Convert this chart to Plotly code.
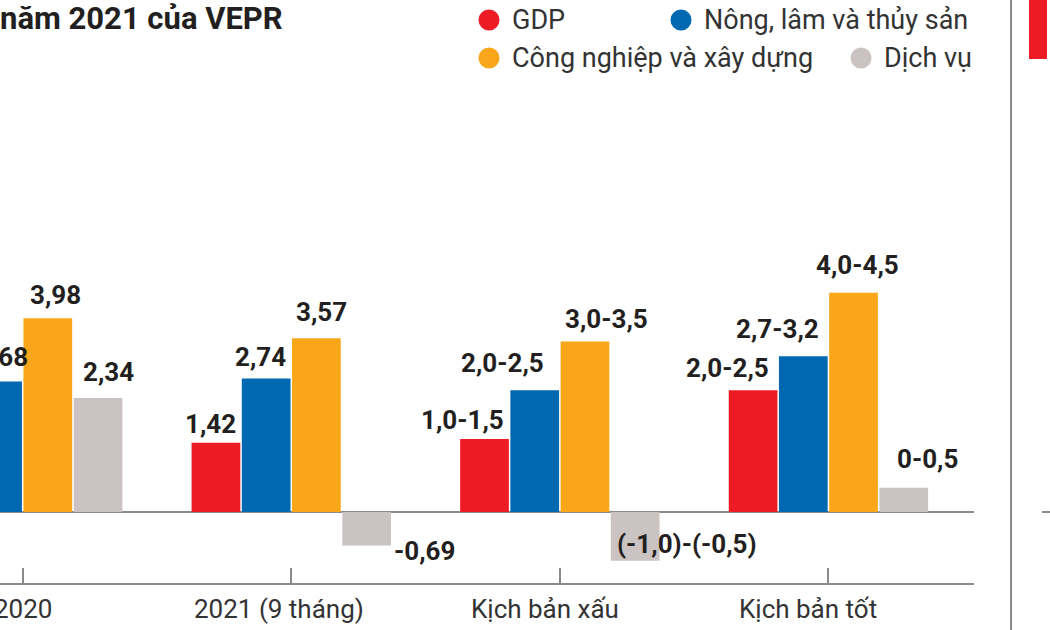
import plotly.graph_objects as go

# ---------------- data ----------------
categories = ["2020", "2021 (9 tháng)", "Kịch bản xấu", "Kịch bản tốt"]
series_names = ["GDP", "Nông, lâm và thủy sản", "Công nghiệp và xây dựng", "Dịch vụ"]
gdp = [2.91, 1.42, 1.5, 2.5]
agri = [2.68, 2.74, 2.5, 3.2]
industry = [3.98, 3.57, 3.5, 4.5]
services = [2.34, -0.69, -1.0, 0.5]
gdp_labels = ["2,91", "1,42", "1,0-1,5", "2,0-2,5"]
agri_labels = ["2,68", "2,74", "2,0-2,5", "2,7-3,2"]
industry_labels = ["3,98", "3,57", "3,0-3,5", "4,0-4,5"]
services_labels = ["2,34", "-0,69", "(-1,0)-(-0,5)", "0-0,5"]
title_text = "năm 2021 của VEPR"

values = [gdp, agri, industry, services]
labels = [gdp_labels, agri_labels, industry_labels, services_labels]

# ---------------- style ----------------
colors = ["#ed1c24", "#0067b1", "#f9a61b", "#cbc3c1"]
W, H = 1050, 630
M_L, M_R, M_T, M_B = 0, 76, 0, 47
PW, PH = W - M_L - M_R, H - M_T - M_B
X_RANGE = [-0.0845, 3.542]
Y_RANGE = [-1.458, 10.513]
BARGAP = 0.252
SLOT = (1 - BARGAP) / 4
AXIS_COLOR = "#8a8a8a"
LABEL_COLOR = "#231f20"
TEXT_COLOR = "#333333"
FONT = "Roboto, Arial, sans-serif"

# label offsets (px): dx horizontal, gap above bar top
label_dx = [[0, -5, -22, -26], [5, -6, -32, -26], [8, 5, 22, 4], [10, 0, 0, 24]]
label_gap = [[15, 11, 11, 14], [16, 14, 19, 19], [15, 18, 15, 20], [18, 0, 0, 21]]
cat_label_dx = [0, -12, -15, -20]


def xp(v):
    return (v - X_RANGE[0]) / (X_RANGE[1] - X_RANGE[0])


def px_x(p):
    return p / PW


def px_y(p):
    return (PH - p) / PH


bold_font = dict(family=FONT, size=26, color=LABEL_COLOR, weight="bold")

fig = go.Figure()
for j, (name, vals) in enumerate(zip(series_names, values)):
    fig.add_trace(go.Bar(
        x=categories, y=vals, name=name,
        marker=dict(color=colors[j], line=dict(width=0)),
        showlegend=False, hoverinfo="skip",
    ))

annotations = []
for j in range(4):
    for i, cat in enumerate(categories):
        v = values[j][i]
        center = i + (j - 1.5) * SLOT
        if v >= 0:
            annotations.append(dict(
                x=xp(center), xref="paper", y=v, yref="y",
                text=labels[j][i], showarrow=False,
                xanchor="center", yanchor="bottom",
                xshift=label_dx[j][i], yshift=label_gap[j][i] - 9,
                font=bold_font,
            ))

# negative service labels
i = 1
right_edge = i + (3 - 1.5) * SLOT + SLOT / 2
annotations.append(dict(
    x=xp(right_edge), xref="paper", y=services[i], yref="y",
    text=services_labels[i], showarrow=False, xanchor="left", yanchor="middle",
    xshift=0, yshift=-5, font=bold_font))
i = 2
left_edge = i + (3 - 1.5) * SLOT - SLOT / 2
annotations.append(dict(
    x=xp(left_edge), xref="paper", y=services[i], yref="y",
    text=services_labels[i], showarrow=False, xanchor="left", yanchor="middle",
    xshift=5, yshift=17, font=bold_font))

# category labels
for i, cat in enumerate(categories):
    annotations.append(dict(
        x=xp(i), xref="paper", y=px_y(609), yref="paper", text=cat,
        showarrow=False, xanchor="center", yanchor="middle",
        xshift=cat_label_dx[i], font=dict(family=FONT, size=26, color=TEXT_COLOR)))

# title (cropped)
annotations.append(dict(
    x=0, xref="paper", y=1, yref="paper", text=title_text,
    showarrow=False, xanchor="left", yanchor="top", xshift=-2, yshift=2,
    font=dict(family=FONT, size=31, color=LABEL_COLOR, weight="bold")))

# custom legend
legend_pos = [(489, 20), (681, 20), (489, 58), (861, 58)]
shapes = []
for j, (cx, cy) in enumerate(legend_pos):
    r = 10.5
    shapes.append(dict(type="circle", xref="paper", yref="paper",
                       x0=px_x(cx - r), x1=px_x(cx + r), y0=px_y(cy + r), y1=px_y(cy - r),
                       fillcolor=colors[j], line=dict(width=0)))
    annotations.append(dict(
        x=px_x(cx + 21), xref="paper", y=px_y(cy), yref="paper",
        text=series_names[j], showarrow=False, xanchor="left", yanchor="middle",
        font=dict(family=FONT, size=27, color=TEXT_COLOR)))

# neighbouring panel fragments
shapes.append(dict(type="line", xref="paper", yref="paper",
                   x0=px_x(1011), x1=px_x(1011), y0=px_y(H), y1=1,
                   line=dict(color=AXIS_COLOR, width=2)))
shapes.append(dict(type="rect", xref="paper", yref="paper",
                   x0=px_x(1029), x1=px_x(1047), y0=px_y(59), y1=1,
                   fillcolor=colors[0], line=dict(width=0)))
shapes.append(dict(type="line", xref="paper", yref="y",
                   x0=px_x(1042), x1=px_x(1050), y0=0, y1=0,
                   line=dict(color=AXIS_COLOR, width=2)))

fig.update_layout(
    width=W, height=H,
    margin=dict(l=M_L, r=M_R, t=M_T, b=M_B, pad=0, autoexpand=False),
    paper_bgcolor="white", plot_bgcolor="white",
    barmode="group", bargap=BARGAP, bargroupgap=0.03,
    annotations=annotations, shapes=shapes,
    showlegend=False,
    xaxis=dict(type="category", range=X_RANGE, showline=True, linecolor=AXIS_COLOR,
               linewidth=2, ticks="inside", ticklen=15, tickwidth=2, tickcolor=AXIS_COLOR,
               showgrid=False, zeroline=False, fixedrange=True, showticklabels=False,
               automargin=False),
    yaxis=dict(range=Y_RANGE, showgrid=False, showticklabels=False, showline=False,
               zeroline=True, zerolinecolor=AXIS_COLOR, zerolinewidth=2, ticks="",
               fixedrange=True, automargin=False),
)

fig.write_html("out.html")
